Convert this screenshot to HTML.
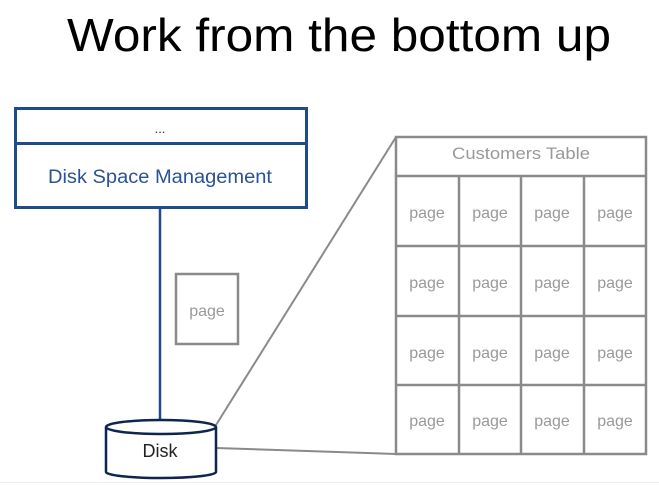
<!DOCTYPE html>
<html><head><meta charset="utf-8"><style>
html,body{margin:0;padding:0;background:#fff;width:659px;height:486px;overflow:hidden}
svg{display:block}
text{font-family:"Liberation Sans",sans-serif}
</style></head><body>
<svg width="659" height="486" viewBox="0 0 659 486">
<rect width="659" height="486" fill="#fff"/>
<text x="67" y="51" font-size="46" fill="#000" textLength="544" lengthAdjust="spacingAndGlyphs">Work from the bottom up</text>
<line x1="0" y1="482.5" x2="659" y2="482.5" stroke="#ececec" stroke-width="1"/>
<rect x="15.5" y="108.5" width="291" height="99" fill="#fff" stroke="#1f4a8c" stroke-width="3"/>
<line x1="15" y1="143.5" x2="306" y2="143.5" stroke="#1f4a8c" stroke-width="3"/>
<text x="160" y="133" font-size="13" fill="#333" text-anchor="middle">...</text>
<text x="160" y="183" font-size="19" fill="#2a5298" text-anchor="middle" textLength="224" lengthAdjust="spacingAndGlyphs">Disk Space Management</text>
<line x1="160" y1="208" x2="160" y2="420" stroke="#1f4a8c" stroke-width="2.5"/>
<rect x="176" y="274" width="62" height="70" fill="#fff" stroke="#8a8a8a" stroke-width="2.5"/>
<text x="207" y="316" font-size="16" fill="#999" text-anchor="middle">page</text>
<line x1="216" y1="425" x2="396" y2="137" stroke="#8a8a8a" stroke-width="2"/>
<line x1="216" y1="448" x2="396" y2="454" stroke="#8a8a8a" stroke-width="2"/>
<path d="M106,427 L106,472 A55,6 0 0 0 216,472 L216,427" fill="#fff" stroke="#0e2550" stroke-width="2.5"/>
<ellipse cx="161" cy="427" rx="55" ry="7" fill="#fff" stroke="#0e2550" stroke-width="2.5"/>
<text x="160" y="457" font-size="18" fill="#222" text-anchor="middle">Disk</text>
<g stroke="#8a8a8a" stroke-width="2.5" fill="none">
<rect x="396" y="137" width="250" height="317"/>
<line x1="396" y1="176" x2="646" y2="176"/>
<line x1="396" y1="246" x2="646" y2="246"/>
<line x1="396" y1="316" x2="646" y2="316"/>
<line x1="396" y1="385" x2="646" y2="385"/>
<line x1="459" y1="176" x2="459" y2="454"/>
<line x1="521" y1="176" x2="521" y2="454"/>
<line x1="584" y1="176" x2="584" y2="454"/>
</g>
<text x="521" y="159" font-size="17" fill="#999" text-anchor="middle" textLength="138" lengthAdjust="spacingAndGlyphs">Customers Table</text>
<g font-size="16" fill="#999" text-anchor="middle">
<text x="427" y="218">page</text><text x="490" y="218">page</text><text x="552" y="218">page</text><text x="615" y="218">page</text>
<text x="427" y="288">page</text><text x="490" y="288">page</text><text x="552" y="288">page</text><text x="615" y="288">page</text>
<text x="427" y="358">page</text><text x="490" y="358">page</text><text x="552" y="358">page</text><text x="615" y="358">page</text>
<text x="427" y="426">page</text><text x="490" y="426">page</text><text x="552" y="426">page</text><text x="615" y="426">page</text>
</g>
</svg>
</body></html>
